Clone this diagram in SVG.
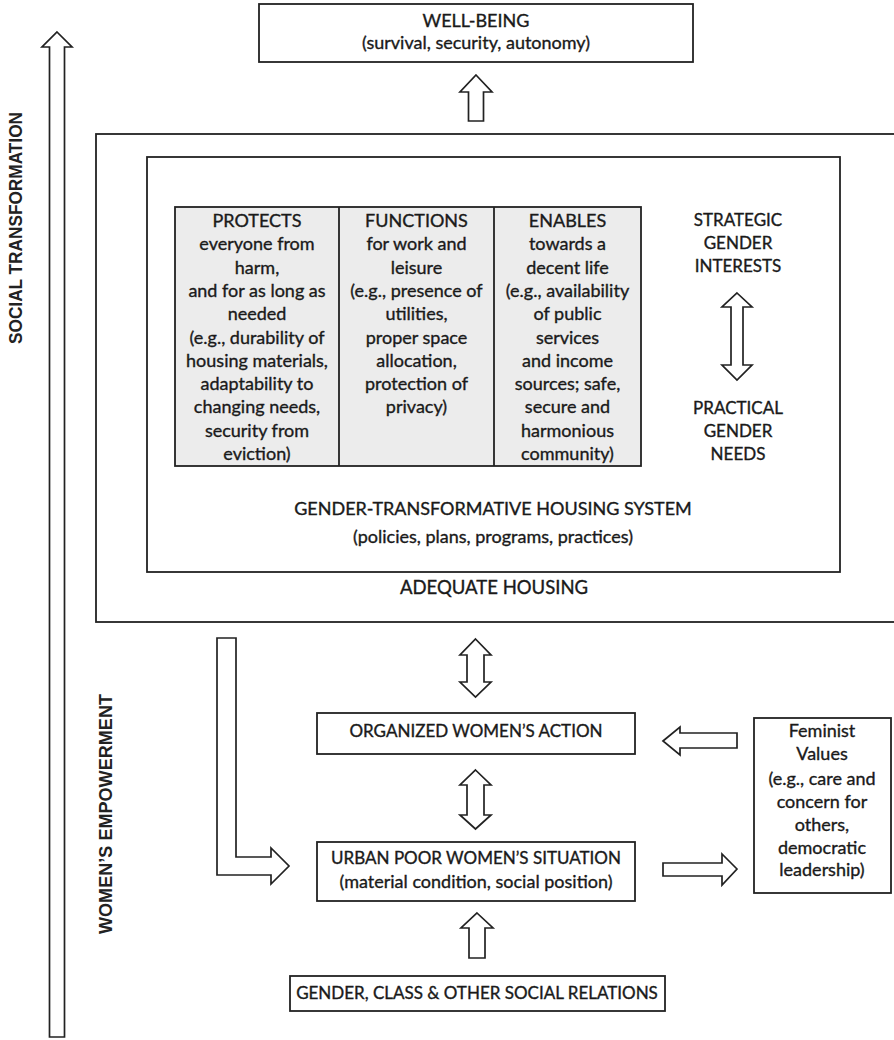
<svg xmlns="http://www.w3.org/2000/svg" width="894" height="1040" viewBox="0 0 894 1040">
<style>
.bx{fill:#fff;stroke:#222;stroke-width:1.8}
.ar{fill:#fff;stroke:#222;stroke-width:1.7;stroke-linejoin:miter}
.t{font-family:Lato,"Liberation Sans",sans-serif;font-size:17px;fill:#1a1a1a;stroke:#1a1a1a;stroke-width:0.35;text-anchor:middle}
.s{font-size:18px}
.v{font-family:"Liberation Sans",Arial,sans-serif;font-size:19px;font-weight:bold;fill:#222;text-anchor:middle}
</style>
<rect width="894" height="1040" fill="#fff"/>

<g id="social-transformation">
<text class="v" transform="translate(22,228) rotate(-90)" textLength="232" lengthAdjust="spacingAndGlyphs">SOCIAL TRANSFORMATION</text>
</g>
<g id="womens-empowerment">
<text class="v" transform="translate(112,814) rotate(-90)" textLength="240" lengthAdjust="spacingAndGlyphs">WOMEN’S EMPOWERMENT</text>
</g>

<g id="well-being">
<rect class="bx" x="259" y="4" width="434" height="58"/>
<text class="t s" x="476" y="27">WELL-BEING</text>
<text class="t s" x="476" y="49">(survival, security, autonomy)</text>
</g>

<g id="adequate-housing">
<rect class="bx" x="96" y="134" width="800" height="488"/>
<text class="t" x="494" y="594" style="font-size:18.5px">ADEQUATE HOUSING</text>
</g>

<g id="housing-system">
<rect class="bx" x="147" y="157" width="693" height="415"/>
<text class="t s" x="493" y="515">GENDER-TRANSFORMATIVE HOUSING SYSTEM</text>
<text class="t s" x="493" y="543">(policies, plans, programs, practices)</text>
</g>

<g id="table">
<rect x="175" y="207" width="466" height="259" fill="#ececec" stroke="#222" stroke-width="1.8"/>
<line x1="339" y1="207" x2="339" y2="466" stroke="#222" stroke-width="1.8"/>
<line x1="494" y1="207" x2="494" y2="466" stroke="#222" stroke-width="1.8"/>
</g>
<g id="protects">
<text class="t s" x="257" y="227">PROTECTS</text>
<text class="t s" x="257" y="250.3">everyone from</text>
<text class="t s" x="257" y="273.6">harm,</text>
<text class="t s" x="257" y="296.9">and for as long as</text>
<text class="t s" x="257" y="320.2">needed</text>
<text class="t s" x="257" y="343.5">(e.g., durability of</text>
<text class="t s" x="257" y="366.8">housing materials,</text>
<text class="t s" x="257" y="390.1">adaptability to</text>
<text class="t s" x="257" y="413.4">changing needs,</text>
<text class="t s" x="257" y="436.7">security from</text>
<text class="t s" x="257" y="460">eviction)</text>
</g>
<g id="functions">
<text class="t s" x="416.5" y="227">FUNCTIONS</text>
<text class="t s" x="416.5" y="250.3">for work and</text>
<text class="t s" x="416.5" y="273.6">leisure</text>
<text class="t s" x="416.5" y="296.9">(e.g., presence of</text>
<text class="t s" x="416.5" y="320.2">utilities,</text>
<text class="t s" x="416.5" y="343.5">proper space</text>
<text class="t s" x="416.5" y="366.8">allocation,</text>
<text class="t s" x="416.5" y="390.1">protection of</text>
<text class="t s" x="416.5" y="413.4">privacy)</text>
</g>
<g id="enables">
<text class="t s" x="567.5" y="227">ENABLES</text>
<text class="t s" x="567.5" y="250.3">towards a</text>
<text class="t s" x="567.5" y="273.6">decent life</text>
<text class="t s" x="567.5" y="296.9">(e.g., availability</text>
<text class="t s" x="567.5" y="320.2">of public</text>
<text class="t s" x="567.5" y="343.5">services</text>
<text class="t s" x="567.5" y="366.8">and income</text>
<text class="t s" x="567.5" y="390.1">sources; safe,</text>
<text class="t s" x="567.5" y="413.4">secure and</text>
<text class="t s" x="567.5" y="436.7">harmonious</text>
<text class="t s" x="567.5" y="460">community)</text>
</g>

<g id="strategic-interests">
<text class="t" x="738" y="226">STRATEGIC</text>
<text class="t" x="738" y="249">GENDER</text>
<text class="t" x="738" y="272">INTERESTS</text>
</g>
<g id="practical-needs">
<text class="t" x="738" y="414">PRACTICAL</text>
<text class="t" x="738" y="437">GENDER</text>
<text class="t" x="738" y="460">NEEDS</text>
</g>

<g id="organized-action">
<rect class="bx" x="317" y="713" width="318" height="41"/>
<text class="t" x="476" y="737">ORGANIZED WOMEN’S ACTION</text>
</g>
<g id="urban-poor">
<rect class="bx" x="317" y="842" width="318" height="59"/>
<text class="t" x="476" y="864">URBAN POOR WOMEN’S SITUATION</text>
<text class="t s" x="476" y="888">(material condition, social position)</text>
</g>
<g id="social-relations">
<rect class="bx" x="290" y="976" width="375" height="35"/>
<text class="t" x="477" y="999">GENDER, CLASS &amp; OTHER SOCIAL RELATIONS</text>
</g>
<g id="feminist-values">
<rect class="bx" x="754" y="718" width="137" height="175"/>
<text class="t s" x="822" y="737">Feminist</text>
<text class="t s" x="822" y="760">Values</text>
<text class="t s" x="822" y="785">(e.g., care and</text>
<text class="t s" x="822" y="808">concern for</text>
<text class="t s" x="822" y="831">others,</text>
<text class="t s" x="822" y="854">democratic</text>
<text class="t s" x="822" y="876">leadership)</text>
</g>

<g id="connectors">
<polygon class="ar" points="57,32 72,47 64.5,47 64.5,1037 49.5,1037 49.5,47 42,47"/>
<polygon class="ar" points="476,75 492,92 483.5,92 483.5,121 468.5,121 468.5,92 460,92"/>
<polygon class="ar" points="737,293 752,307 743,307 743,365 752,365 737,380 722,365 731,365 731,307 722,307"/>
<polygon class="ar" points="217,638 236,638 236,857 271,857 271,848 289,866 271,884 271,875 217,875"/>
<polygon class="ar" points="475.5,639 491,655 484,655 484,682 491,682 475.5,697 460,682 467,682 467,655 460,655"/>
<polygon class="ar" points="475.5,770 491,785 484,785 484,815 491,815 475.5,829 460,815 467,815 467,785 460,785"/>
<polygon class="ar" points="477,913 493,928 485,928 485,958 469,958 469,928 461,928"/>
<polygon class="ar" points="663,741 680,727 680,733 737,733 737,748 680,748 680,755"/>
<polygon class="ar" points="737,869 722,854 722,863 663,863 663,876 722,876 722,885"/>
</g>
</svg>
